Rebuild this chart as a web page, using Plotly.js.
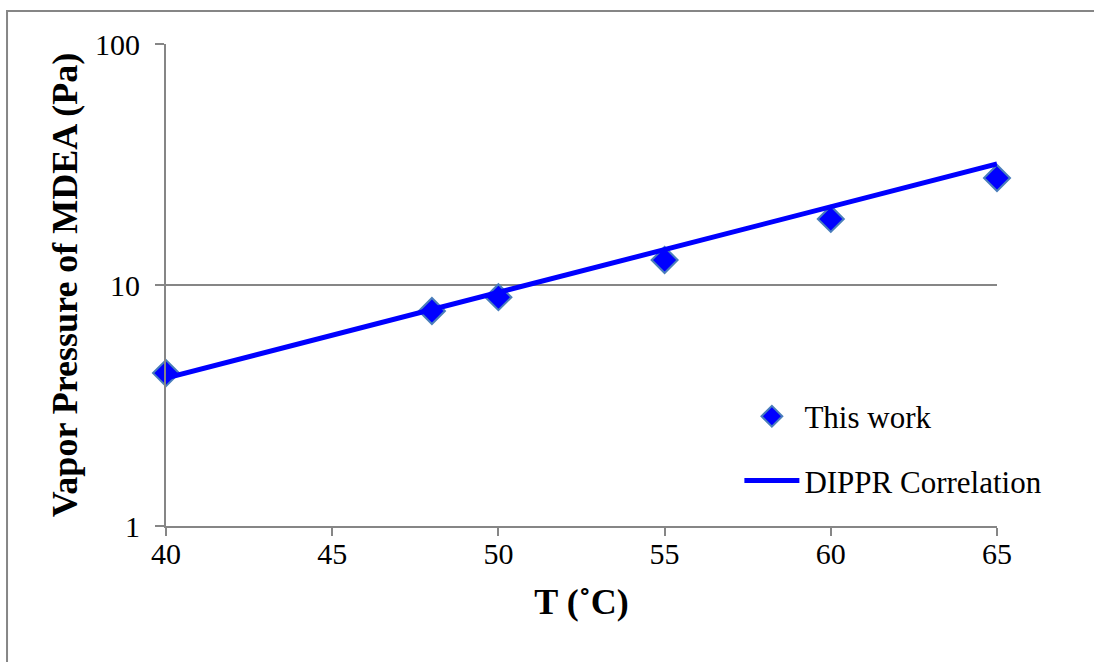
<!DOCTYPE html>
<html>
<head>
<meta charset="utf-8">
<script src="https://cdn.plot.ly/plotly-3.0.1.min.js"></script>
<style>html,body{margin:0;padding:0;background:#fff;}#chart{width:1094px;height:662px;}</style>
</head>
<body>
<div id="chart"></div>
<script>
// Measured data ("This work")
const tempWork = [40, 48, 50, 55, 60, 65];
const pressWork = [4.31, 7.8, 8.9, 12.7, 18.8, 27.8];
// DIPPR correlation curve
const tempDippr = [40, 45, 50, 55, 60, 65];
const pressDippr = [4.11, 6.19, 9.33, 14.0, 21.1, 31.8];
const xTicks = [40, 45, 50, 55, 60, 65];
const yTicks = [1, 10, 100];

const serif = 'Liberation Serif';

const traces = [
  {
    x: tempWork, y: pressWork, mode: 'markers', name: 'This work',
    marker: {symbol: 'diamond', size: 20, color: '#0000ff', line: {color: '#4a7ebb', width: 2}},
    legendgroup: 'a', legendrank: 1, cliponaxis: false
  },
  {
    x: tempDippr, y: pressDippr, mode: 'lines', name: 'DIPPR Correlation',
    line: {color: '#0000ff', width: 5}, legendgroup: 'b', legendrank: 2, cliponaxis: false
  }
];

const layout = {
  width: 1094, height: 662,
  margin: {l: 166, r: 97, t: 44, b: 136},
  paper_bgcolor: '#fff', plot_bgcolor: '#fff',
  font: {family: serif, size: 30, color: '#000'},
  showlegend: true,
  legend: {
    x: 0.69, y: 0.283, xanchor: 'left', yanchor: 'top',
    font: {family: serif, size: 31, color: '#000'},
    itemwidth: 55,
    tracegroupgap: 21, bgcolor: 'rgba(0,0,0,0)', traceorder: 'grouped'
  },
  xaxis: {
    range: [40, 65], tickvals: xTicks, ticktext: xTicks.map(String),
    showgrid: false, zeroline: false, showline: true, linecolor: '#868686', linewidth: 2,
    ticks: 'outside', ticklen: 8, tickcolor: '#868686', tickwidth: 2,
    ticklabelstandoff: -8,
    tickfont: {family: serif, size: 30, color: '#000'},
    title: {text: '<b>T (˚C)</b>', font: {family: serif, size: 36, color: '#000'}, standoff: 20}
  },
  yaxis: {
    type: 'log', range: [0, 2], tickvals: yTicks, ticktext: yTicks.map(String),
    showgrid: true, gridcolor: '#868686', gridwidth: 2, zeroline: false,
    showline: true, linecolor: '#868686', linewidth: 2,
    ticks: 'outside', ticklen: 9, tickcolor: '#868686', tickwidth: 2,
    ticklabelstandoff: 9,
    tickfont: {family: serif, size: 30, color: '#000'},
    title: {text: '<b>Vapor Pressure of MDEA (Pa)</b>', font: {family: serif, size: 36, color: '#000'}, standoff: 6}
  },
  shapes: [{
    type: 'rect', xref: 'paper', yref: 'paper',
    x0: -0.1913, x1: 1.2, y0: -0.4, y1: 1.0685,
    line: {color: '#868686', width: 2}, fillcolor: 'rgba(0,0,0,0)', layer: 'below'
  }]
};

Plotly.newPlot('chart', traces, layout, {displayModeBar: false, staticPlot: true});
</script>
</body>
</html>
